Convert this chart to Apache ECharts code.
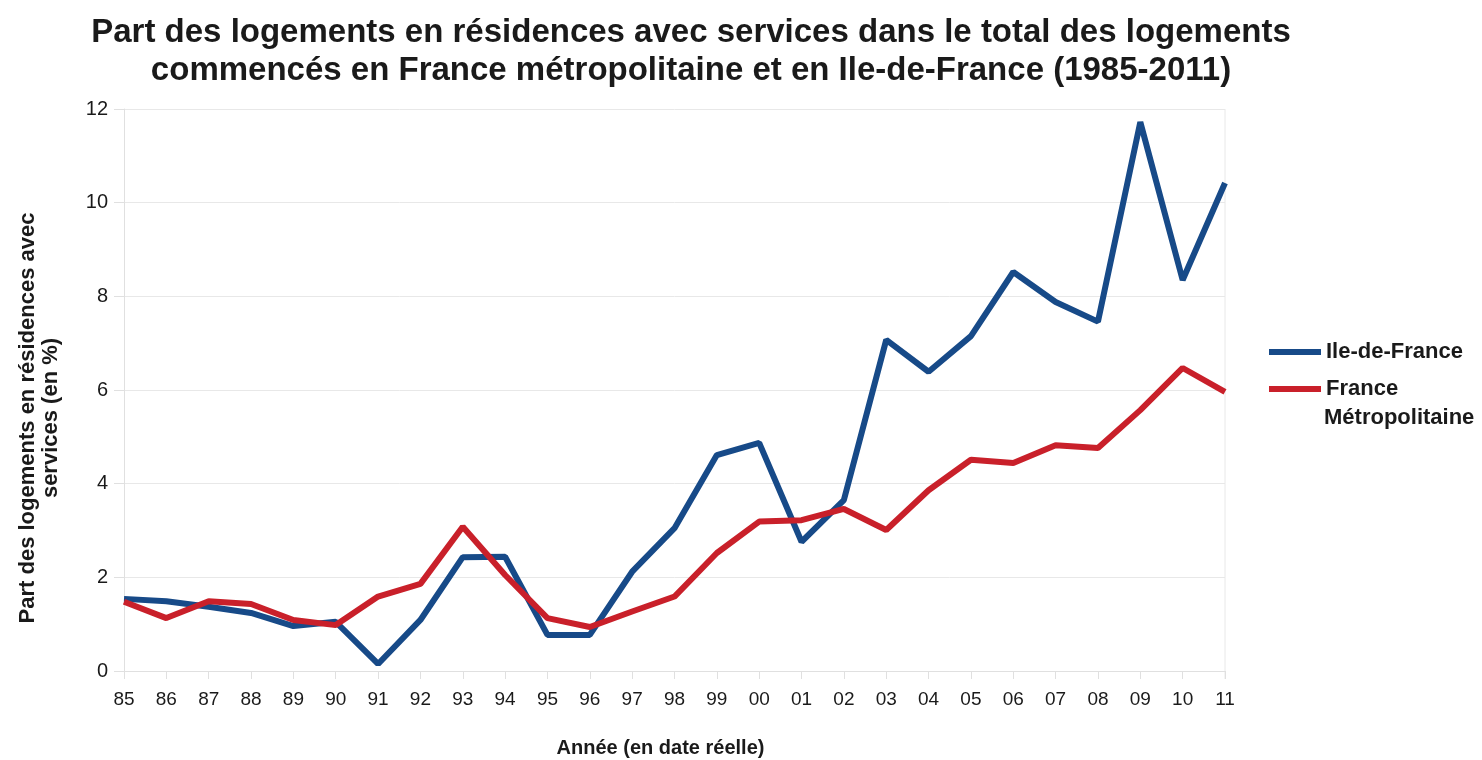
<!DOCTYPE html>
<html>
<head>
<meta charset="utf-8">
<script src="https://cdn.jsdelivr.net/npm/echarts@6/dist/echarts.min.js"></script>
<style>
  html, body { margin: 0; padding: 0; background: #fff; }
  #chart { width: 1482px; height: 760px; }
</style>
</head>
<body>
<div id="chart"></div>
<script>
// données
var annees = ['85','86','87','88','89','90','91','92','93','94','95','96','97','98','99','00','01','02','03','04','05','06','07','08','09','10','11'];
var ileDeFrance = [1.54, 1.49, 1.37, 1.24, 0.96, 1.05, 0.15, 1.09, 2.43, 2.44, 0.77, 0.77, 2.12, 3.05, 4.61, 4.87, 2.76, 3.65, 7.07, 6.39, 7.15, 8.52, 7.88, 7.46, 11.72, 8.35, 10.42];
var franceMetro = [1.48, 1.13, 1.49, 1.43, 1.09, 0.98, 1.59, 1.86, 3.08, 2.05, 1.13, 0.94, 1.27, 1.59, 2.52, 3.19, 3.22, 3.46, 3.01, 3.86, 4.51, 4.44, 4.82, 4.76, 5.57, 6.47, 5.96];
var yTicks = [0, 2, 4, 6, 8, 10, 12];

var font = 'Liberation Sans, Arial, sans-serif';
var chart = echarts.init(document.getElementById('chart'));

var option = {
    backgroundColor: '#fff',
    animation: false,
    textStyle: { fontFamily: font },
    title: {
        text: 'Part des logements en résidences avec services dans le total des logements\ncommencés en France métropolitaine et en Ile-de-France (1985-2011)',
        left: 686,
        textAlign: 'center',
        top: 9,
        textStyle: {
            fontFamily: font,
            fontSize: 33,
            fontWeight: 'bold',
            lineHeight: 38,
            color: '#1a1a1a'
        }
    },
    legend: {
        orient: 'vertical',
        left: 1264,
        top: 334,
        icon: 'rect',
        itemWidth: 52,
        itemHeight: 6,
        itemGap: 11,
        textStyle: {
            fontFamily: font,
            fontSize: 22,
            fontWeight: 'bold',
            color: '#1a1a1a',
            lineHeight: 26
        },
        formatter: function (name) {
            return name === 'France Métropolitaine' ? 'France' : name;
        },
        data: ['Ile-de-France', 'France Métropolitaine']
    },
    grid: {
        left: 124,
        right: 257,
        top: 109,
        bottom: 89,
        outerBoundsMode: 'none'
    },
    xAxis: {
        type: 'category',
        data: annees,
        boundaryGap: false,
        name: 'Année (en date réelle)',
        nameLocation: 'middle',
        nameGap: 67,
        nameTextStyle: { fontFamily: font, fontSize: 20, fontWeight: 'bold', color: '#1a1a1a', padding: [0, 28, 0, 0] },
        axisLine: { show: true, lineStyle: { color: '#e0e0e0', width: 1 } },
        axisTick: { show: true, alignWithLabel: true, length: 8, lineStyle: { color: '#e0e0e0' } },
        axisLabel: { margin: 19, fontSize: 19, color: '#1a1a1a', interval: 0 },
        splitLine: { show: false }
    },
    yAxis: {
        type: 'value',
        min: yTicks[0],
        max: yTicks[yTicks.length - 1],
        interval: 2,
        name: 'Part des logements en résidences avec\nservices (en %)',
        nameLocation: 'middle',
        nameRotate: 90,
        nameGap: 62,
        nameTextStyle: { fontFamily: font, fontSize: 22, fontWeight: 'bold', color: '#1a1a1a', lineHeight: 23, padding: [0, 56, 0, 0] },
        axisLine: { show: true, lineStyle: { color: '#e0e0e0', width: 1 } },
        axisTick: { show: true, length: 10, lineStyle: { color: '#e0e0e0' } },
        axisLabel: { margin: 16, fontSize: 20, color: '#1a1a1a' },
        splitLine: { show: true, lineStyle: { color: '#e8e8e8', width: 1 } }
    },
    series: [
        {
            name: 'Ile-de-France',
            type: 'line',
            data: ileDeFrance,
            showSymbol: false,
            symbol: 'none',
            lineStyle: { color: '#174a88', width: 6 },
            itemStyle: { color: '#174a88' },
            z: 3
        },
        {
            name: 'France Métropolitaine',
            type: 'line',
            data: franceMetro,
            showSymbol: false,
            symbol: 'none',
            lineStyle: { color: '#c9202a', width: 6 },
            itemStyle: { color: '#c9202a' },
            z: 4
        }
    ],
    graphic: [
        {
            // bordure droite de la zone de tracé
            type: 'line',
            shape: { x1: 1225, y1: 109, x2: 1225, y2: 679 },
            style: { stroke: '#e8e8e8', lineWidth: 1 },
            silent: true
        },
        {
            // suite du libellé de légende
            type: 'text',
            left: 1324,
            top: 407,
            style: {
                text: 'Métropolitaine',
                font: 'bold 22px Liberation Sans, Arial, sans-serif',
                fill: '#1a1a1a'
            },
            silent: true
        }
    ]
};

chart.setOption(option);
</script>
</body>
</html>
